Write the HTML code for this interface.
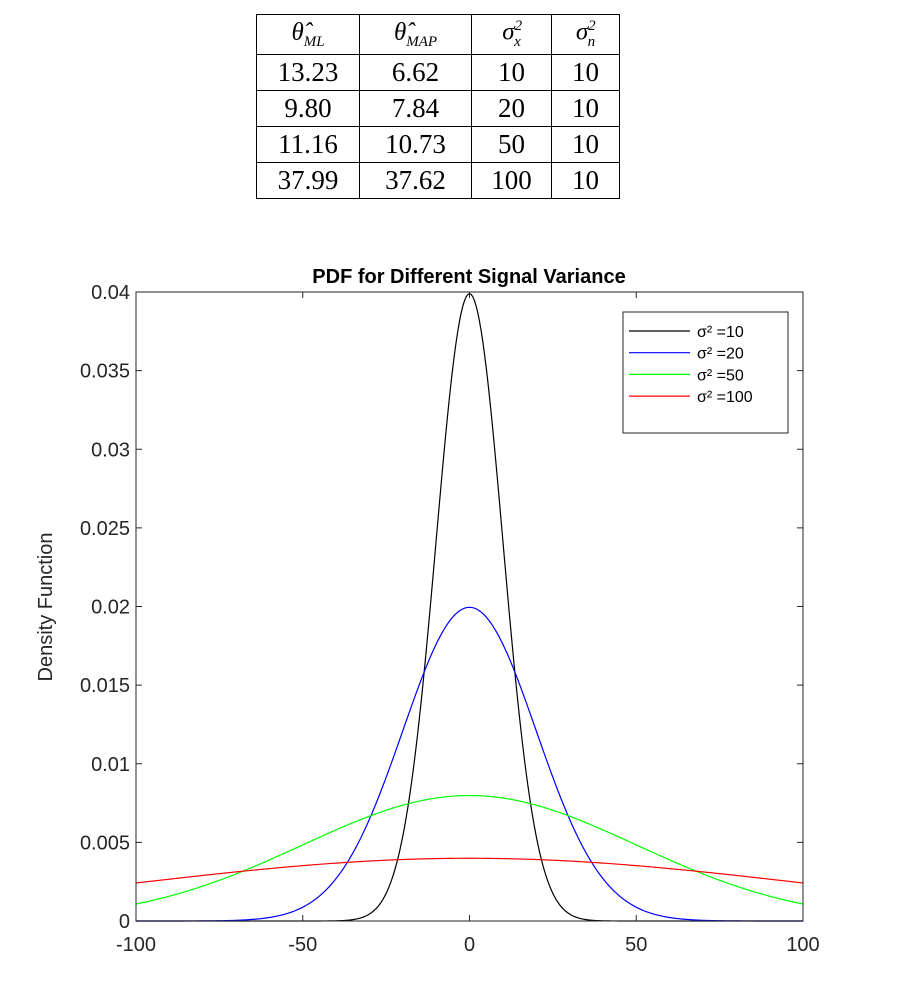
<!DOCTYPE html>
<html><head><meta charset="utf-8"><style>
body{margin:0;background:#fff;width:908px;height:998px;overflow:hidden;font-family:"Liberation Sans",sans-serif}
table{position:absolute;left:256px;top:14px;border-collapse:collapse;font-family:"Liberation Serif",serif;font-size:27px}
td{border:1.5px solid #000;text-align:center;padding:0;height:35px}
.h{height:40px;font-style:italic;font-size:25px}
sub,sup{font-size:15px}
</style></head><body>
<table>
<tr class="h"><td style="width:102px">θ̂<sub>ML</sub></td><td style="width:111px">θ̂<sub>MAP</sub></td><td style="width:79px">σ<sup>2</sup><sub style="margin-left:-8px">x</sub></td><td style="width:67px">σ<sup>2</sup><sub style="margin-left:-8px">n</sub></td></tr>
<tr><td>13.23</td><td>6.62</td><td>10</td><td>10</td></tr>
<tr><td>9.80</td><td>7.84</td><td>20</td><td>10</td></tr>
<tr><td>11.16</td><td>10.73</td><td>50</td><td>10</td></tr>
<tr><td>37.99</td><td>37.62</td><td>100</td><td>10</td></tr>
</table>
<svg id="c" width="908" height="998" style="position:absolute;left:0;top:0"></svg>
<script>
const labels=["σ² =10","σ² =20","σ² =50","σ² =100"];
const stds=[10,20,50,100];
const colors=["#000","#0000ff","#00ff00","#ff0000"];
const xTicks=[-100,-50,0,50,100];
const yTicks=[0,0.005,0.01,0.015,0.02,0.025,0.03,0.035,0.04];
const yTickLabels=["0","0.005","0.01","0.015","0.02","0.025","0.03","0.035","0.04"];
const L=136,R=803,T=292,B=921;
const sx=v=>L+(v+100)/200*(R-L), sy=v=>B-v/0.04*(B-T);
const svg=document.getElementById('c'),NS="http://www.w3.org/2000/svg";
function mk(t,a,txt){const e=document.createElementNS(NS,t);for(const k in a)e.setAttribute(k,a[k]);if(txt!=null)e.textContent=txt;svg.appendChild(e);return e;}
stds.forEach((s,i)=>{let d="";for(let x=-100;x<=100;x+=0.5){const y=Math.exp(-x*x/(2*s*s))/(s*Math.sqrt(2*Math.PI));d+=(x==-100?"M":"L")+sx(x).toFixed(2)+","+sy(y).toFixed(2);}
const p=mk('path',{d:d,fill:'none',stroke:colors[i],'stroke-width':1.2});

});
const ax=mk('rect',{x:L,y:T,width:R-L,height:B-T,fill:'none',stroke:'#262626','stroke-width':1});


xTicks.forEach(v=>{const x=sx(v);mk('line',{x1:x,x2:x,y1:B,y2:B-6,stroke:'#262626'});mk('line',{x1:x,x2:x,y1:T,y2:T+6,stroke:'#262626'});
const t=mk('text',{x:x,y:B+30,'text-anchor':'middle','font-size':20,fill:'#262626'},String(v));

});
yTicks.forEach((v,i)=>{const y=sy(v);mk('line',{x1:L,x2:L+6,y1:y,y2:y,stroke:'#262626'});mk('line',{x1:R,x2:R-6,y1:y,y2:y,stroke:'#262626'});
const t=mk('text',{x:L-6,y:y+7,'text-anchor':'end','font-size':20,fill:'#262626'},yTickLabels[i]);

});
const ti=mk('text',{x:469,y:283,'text-anchor':'middle','font-size':20,'font-weight':'bold'},"PDF for Different Signal Variance");


const yl=mk('text',{x:0,y:0,transform:'translate(52,607) rotate(-90)','text-anchor':'middle','font-size':20,fill:'#262626'},"Density Function");


const lb=mk('rect',{x:623,y:312,width:165,height:121,fill:'#fff',stroke:'#262626'});


labels.forEach((l,i)=>{const y=331+i*21.7;mk('line',{x1:629,x2:690,y1:y,y2:y,stroke:colors[i],'stroke-width':1.2});
const t=mk('text',{x:697,y:y+6,'font-size':16},l);

});
</script>
</body></html>
